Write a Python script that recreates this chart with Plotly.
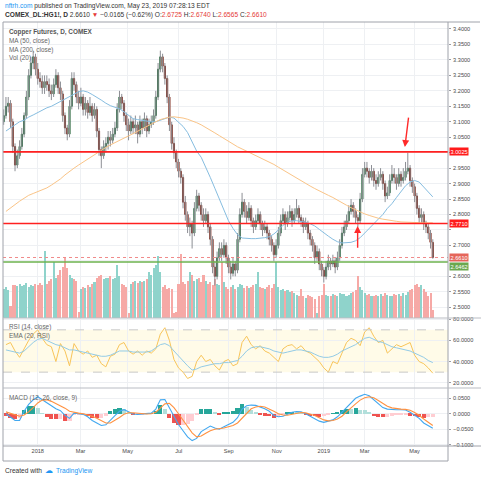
import plotly.graph_objects as go

# ---------------- data ----------------
first_open = 3.10
close = [
    3.12, 3.15, 3.16, 3.10, 3.02, 2.96, 2.99, 3.02, 3.06, 3.12,
    3.18, 3.25, 3.29, 3.31, 3.27, 3.24, 3.23, 3.21, 3.23, 3.22,
    3.20, 3.19, 3.22, 3.25, 3.21, 3.19, 3.12, 3.08, 3.06, 3.15,
    3.24, 3.22, 3.18, 3.16, 3.18, 3.14, 3.16, 3.13, 3.15, 3.12,
    3.14, 3.07, 3.01, 2.99, 3.02, 3.03, 3.05, 3.04, 3.06, 3.08,
    3.14, 3.18, 3.16, 3.12, 3.09, 3.07, 3.10, 3.08, 3.09, 3.06,
    3.10, 3.08, 3.11, 3.07, 3.09, 3.10, 3.12, 3.18, 3.27, 3.31,
    3.28, 3.24, 3.18, 3.09, 3.03, 3.00, 2.97, 2.94, 2.92, 2.84,
    2.80, 2.76, 2.77, 2.74, 2.82, 2.86, 2.83, 2.80, 2.78, 2.80,
    2.76, 2.72, 2.63, 2.60, 2.66, 2.69, 2.67, 2.70, 2.66, 2.63,
    2.61, 2.64, 2.62, 2.72, 2.80, 2.84, 2.81, 2.79, 2.82, 2.78,
    2.76, 2.78, 2.80, 2.77, 2.75, 2.76, 2.74, 2.72, 2.70, 2.67,
    2.70, 2.74, 2.78, 2.80, 2.77, 2.79, 2.81, 2.78, 2.80, 2.82,
    2.79, 2.78, 2.76, 2.77, 2.74, 2.72, 2.70, 2.66, 2.68, 2.64,
    2.62, 2.60, 2.63, 2.65, 2.64, 2.65, 2.63, 2.66, 2.70, 2.74,
    2.76, 2.78, 2.81, 2.83, 2.81, 2.79, 2.78, 2.85, 2.93, 2.95,
    2.94, 2.92, 2.94, 2.91, 2.90, 2.92, 2.93, 2.90, 2.86, 2.87,
    2.91, 2.93, 2.92, 2.90, 2.93, 2.91, 2.92, 2.94, 2.95, 2.91,
    2.89, 2.86, 2.82, 2.79, 2.80, 2.77, 2.76, 2.74, 2.71, 2.661,
]
high = [
    3.14, 3.18, 3.18, 3.17, 3.11, 3.03, 3.01, 3.04, 3.08, 3.13,
    3.20, 3.27, 3.31, 3.33, 3.32, 3.29, 3.26, 3.25, 3.25, 3.25,
    3.24, 3.22, 3.24, 3.27, 3.26, 3.23, 3.20, 3.13, 3.09, 3.17,
    3.26, 3.26, 3.23, 3.20, 3.21, 3.19, 3.18, 3.17, 3.18, 3.16,
    3.16, 3.15, 3.08, 3.02, 3.04, 3.05, 3.07, 3.07, 3.08, 3.10,
    3.16, 3.20, 3.19, 3.17, 3.13, 3.11, 3.12, 3.11, 3.12, 3.10,
    3.12, 3.11, 3.13, 3.12, 3.11, 3.12, 3.14, 3.20, 3.29, 3.33,
    3.32, 3.29, 3.25, 3.19, 3.10, 3.05, 3.01, 2.98, 2.95, 2.93,
    2.86, 2.81, 2.79, 2.78, 2.84, 2.88, 2.87, 2.84, 2.82, 2.82,
    2.81, 2.77, 2.73, 2.65, 2.68, 2.71, 2.71, 2.72, 2.71, 2.67,
    2.65, 2.66, 2.65, 2.74, 2.82, 2.87, 2.85, 2.83, 2.84, 2.83,
    2.79, 2.80, 2.82, 2.81, 2.78, 2.78, 2.77, 2.75, 2.73, 2.71,
    2.72, 2.76, 2.80, 2.82, 2.81, 2.81, 2.83, 2.82, 2.82, 2.85,
    2.83, 2.80, 2.79, 2.79, 2.78, 2.75, 2.73, 2.71, 2.70, 2.69,
    2.65, 2.63, 2.65, 2.67, 2.66, 2.67, 2.66, 2.68, 2.72, 2.76,
    2.78, 2.80, 2.83, 2.85, 2.84, 2.82, 2.80, 2.87, 2.95, 2.97,
    2.97, 2.95, 2.96, 2.95, 2.93, 2.94, 2.95, 2.94, 2.91, 2.89,
    2.93, 2.96, 2.95, 2.93, 2.95, 2.94, 2.95, 2.97, 3.00, 2.96,
    2.92, 2.90, 2.87, 2.83, 2.82, 2.81, 2.78, 2.77, 2.75, 2.72,
]
low = [
    3.09, 3.11, 3.13, 3.08, 3.00, 2.94, 2.95, 2.98, 3.01, 3.05,
    3.11, 3.17, 3.24, 3.27, 3.25, 3.22, 3.21, 3.19, 3.19, 3.20,
    3.18, 3.17, 3.18, 3.21, 3.19, 3.17, 3.10, 3.06, 3.04, 3.05,
    3.14, 3.20, 3.16, 3.14, 3.15, 3.12, 3.12, 3.11, 3.12, 3.10,
    3.11, 3.05, 2.99, 2.95, 2.98, 3.00, 3.01, 3.02, 3.03, 3.05,
    3.07, 3.13, 3.14, 3.10, 3.07, 3.04, 3.06, 3.06, 3.06, 3.03,
    3.05, 3.06, 3.07, 3.05, 3.06, 3.08, 3.09, 3.11, 3.17, 3.26,
    3.26, 3.22, 3.16, 3.07, 3.01, 2.98, 2.95, 2.92, 2.90, 2.82,
    2.78, 2.74, 2.73, 2.69, 2.73, 2.81, 2.81, 2.78, 2.76, 2.77,
    2.74, 2.70, 2.61, 2.57, 2.59, 2.65, 2.65, 2.66, 2.64, 2.61,
    2.59, 2.60, 2.60, 2.61, 2.71, 2.79, 2.79, 2.77, 2.78, 2.76,
    2.74, 2.75, 2.77, 2.75, 2.73, 2.74, 2.72, 2.70, 2.68, 2.65,
    2.66, 2.69, 2.73, 2.77, 2.75, 2.76, 2.78, 2.76, 2.77, 2.79,
    2.77, 2.76, 2.74, 2.75, 2.72, 2.70, 2.68, 2.64, 2.65, 2.62,
    2.60, 2.58, 2.59, 2.62, 2.62, 2.63, 2.61, 2.62, 2.65, 2.69,
    2.73, 2.75, 2.77, 2.80, 2.79, 2.77, 2.76, 2.77, 2.84, 2.92,
    2.92, 2.90, 2.91, 2.89, 2.88, 2.89, 2.91, 2.88, 2.84, 2.85,
    2.86, 2.90, 2.90, 2.88, 2.89, 2.89, 2.90, 2.91, 2.93, 2.89,
    2.87, 2.84, 2.80, 2.77, 2.77, 2.75, 2.74, 2.72, 2.69, 2.657,
]
volume = [  # thousands of contracts
    95, 100, 90, 40, 105, 108, 102, 110, 104, 106,
    112, 100, 108, 104, 110, 106, 112, 108, 215, 110,
    120, 125, 180, 130, 140, 155, 165, 195, 160, 140,
    130, 125, 120, 20, 95, 100, 98, 105, 100, 110,
    115, 130, 135, 140, 125, 130, 128, 135, 125, 130,
    170, 135, 110, 105, 100, 15, 110, 115, 118, 112,
    120, 115, 118, 125, 150, 140, 160, 170, 200, 150,
    100, 105, 95, 98, 92, 15, 20, 110, 205, 115,
    110, 120, 150, 140, 120, 125, 130, 115, 140, 120,
    110, 115, 105, 125, 110, 105, 180, 115, 100, 95,
    100, 105, 95, 100, 110, 105, 98, 102, 96, 100,
    105, 110, 150, 100, 98, 95, 100, 105, 98, 110,
    180, 100, 90, 92, 88, 90, 85, 88, 80, 75,
    72, 95, 70, 65, 75, 72, 68, 60, 15, 70,
    75, 110, 75, 72, 70, 78, 75, 72, 80, 76,
    78, 72, 75, 80, 85, 90, 135, 100, 90, 80,
    75, 78, 72, 70, 75, 72, 78, 70, 80, 75,
    72, 70, 78, 74, 76, 72, 80, 75, 85, 90,
    95, 105, 110, 100, 108, 95, 85, 70, 80, 25,
]
# indicators sampled every second bar (bars 1, 3, 5, ...)
ma50 = [
    3.070, 3.080, 3.090, 3.100, 3.105, 3.115, 3.122, 3.130, 3.137, 3.145,
    3.150, 3.158, 3.165, 3.173, 3.182, 3.190, 3.197, 3.200, 3.196, 3.188,
    3.180, 3.170, 3.160, 3.152, 3.147, 3.142, 3.132, 3.120, 3.110, 3.107,
    3.104, 3.102, 3.100, 3.100, 3.105, 3.112, 3.115, 3.112, 3.100, 3.085,
    3.065, 3.035, 3.005, 2.985, 2.955, 2.920, 2.885, 2.850, 2.810, 2.780,
    2.755, 2.735, 2.724, 2.722, 2.722, 2.722, 2.723, 2.725, 2.728, 2.737,
    2.750, 2.765, 2.775, 2.780, 2.780, 2.778, 2.775, 2.770, 2.763, 2.752,
    2.740, 2.730, 2.720, 2.712, 2.708, 2.708, 2.710, 2.715, 2.725, 2.740,
    2.755, 2.770, 2.785, 2.800, 2.820, 2.835, 2.855, 2.875, 2.893, 2.905,
    2.910, 2.905, 2.890, 2.875, 2.857,
]
ma200 = [
    2.810, 2.820, 2.832, 2.843, 2.853, 2.862, 2.868, 2.874, 2.879, 2.886,
    2.895, 2.905, 2.915, 2.928, 2.940, 2.950, 2.960, 2.970, 2.980, 2.990,
    3.000, 3.009, 3.017, 3.025, 3.033, 3.040, 3.047, 3.054, 3.062, 3.070,
    3.078, 3.086, 3.094, 3.100, 3.107, 3.112, 3.115, 3.116, 3.115, 3.112,
    3.108, 3.103, 3.097, 3.090, 3.082, 3.073, 3.064, 3.055, 3.046, 3.036,
    3.027, 3.019, 3.012, 3.005, 2.998, 2.992, 2.985, 2.978, 2.970, 2.962,
    2.953, 2.944, 2.935, 2.926, 2.918, 2.910, 2.900, 2.892, 2.884, 2.876,
    2.868, 2.862, 2.855, 2.846, 2.838, 2.830, 2.822, 2.815, 2.808, 2.802,
    2.797, 2.792, 2.788, 2.785, 2.782, 2.780, 2.778, 2.776, 2.775, 2.774,
    2.774, 2.773, 2.773, 2.773, 2.773,
]
rsi = [
    56, 58, 50, 44, 52, 60, 66, 70, 62, 56,
    54, 40, 57, 50, 36, 57, 50, 47, 50, 44,
    46, 38, 35, 45, 47, 56, 58, 50, 47, 50,
    46, 50, 48, 52, 66, 72, 60, 42, 34, 30,
    24, 26, 40, 46, 40, 42, 36, 32, 40, 42,
    36, 38, 58, 64, 56, 52, 55, 50, 48, 44,
    40, 52, 55, 56, 52, 55, 50, 48, 44, 40,
    34, 30, 40, 38, 48, 58, 62, 60, 55, 68,
    72, 64, 58, 60, 48, 52, 56, 54, 56, 58,
    46, 40, 38, 34, 29,
]
rsi_ema = [
    51, 50, 49, 48, 50, 54, 58, 61, 62, 60,
    58, 56, 55, 53, 51, 51, 50, 49, 48, 47,
    46, 45, 45, 46, 48, 50, 50, 50, 49, 49,
    49, 49, 50, 53, 56, 57, 55, 50, 45, 41,
    36, 32, 33, 35, 36, 37, 38, 38, 39, 39,
    40, 41, 45, 50, 53, 54, 54, 53, 52, 50,
    49, 48, 49, 50, 51, 51, 50, 49, 47, 45,
    44, 44, 45, 47, 50, 52, 54, 56, 59, 62,
    63, 61, 59, 58, 56, 54, 53, 52, 51, 50,
    48, 46, 44, 41, 39,
]
macd = [
    0.000, -0.012, -0.022, -0.022, 0.008, 0.030, 0.045, 0.055, 0.045, 0.034,
    0.024, 0.016, 0.010, -0.005, -0.015, 0.002, 0.000, -0.002, -0.010, -0.022,
    -0.030, -0.038, -0.036, -0.020, -0.006, 0.008, 0.013, 0.006, -0.001, -0.002,
    -0.001, -0.001, 0.002, 0.015, 0.045, 0.046, 0.020, -0.010, -0.035, -0.055,
    -0.075, -0.087, -0.080, -0.058, -0.048, -0.040, -0.046, -0.050, -0.042, -0.036,
    -0.028, -0.013, 0.015, 0.026, 0.028, 0.027, 0.022, 0.016, 0.008, -0.006,
    -0.010, -0.008, -0.002, 0.005, 0.007, 0.006, 0.000, -0.008, -0.014, -0.024,
    -0.028, -0.025, -0.020, -0.010, 0.005, 0.022, 0.035, 0.050, 0.057, 0.063,
    0.058, 0.045, 0.032, 0.020, 0.015, 0.013, 0.013, 0.013, 0.012, 0.005,
    -0.004, -0.015, -0.030, -0.038, -0.047,
]
macd_signal = [
    0.006, 0.002, -0.004, -0.008, -0.004, 0.006, 0.020, 0.035, 0.044, 0.045,
    0.040, 0.033, 0.026, 0.018, 0.008, 0.004, 0.002, 0.000, -0.003, -0.008,
    -0.015, -0.023, -0.030, -0.030, -0.022, -0.012, -0.002, 0.003, 0.003, 0.001,
    0.000, -0.001, 0.000, 0.005, 0.018, 0.032, 0.034, 0.020, 0.000, -0.020,
    -0.042, -0.062, -0.075, -0.072, -0.063, -0.055, -0.050, -0.049, -0.046, -0.042,
    -0.038, -0.030, -0.015, 0.003, 0.016, 0.022, 0.024, 0.022, 0.016, 0.008,
    0.000, -0.004, -0.005, -0.002, 0.002, 0.004, 0.003, -0.001, -0.006, -0.013,
    -0.020, -0.023, -0.022, -0.017, -0.008, 0.006, 0.020, 0.032, 0.044, 0.052,
    0.055, 0.052, 0.043, 0.032, 0.024, 0.019, 0.016, 0.015, 0.014, 0.011,
    0.004, -0.005, -0.017, -0.028, -0.038,
]
month_ticks = [15, 33.9, 54.6, 77.1, 99.1, 120.3, 141, 159, 181]
month_labels = ["2018", "Mar", "May", "Jul", "Sep", "Nov", "2019", "Mar", "May"]
price_ticks = [2.50, 2.55, 2.60, 2.65, 2.70, 2.75, 2.80, 2.85, 2.90, 2.95,
               3.00, 3.05, 3.10, 3.15, 3.20, 3.25, 3.30, 3.35, 3.40]
price_labels = ["2.5000", "2.5500", "2.6000", "", "2.7000", "", "2.8000", "2.8500",
                "2.9000", "2.9500", "", "3.0500", "3.1000", "3.1500", "3.2000",
                "3.2500", "3.3000", "3.3500", "3.4000"]
rsi_ticks = [20, 40, 60, 80]
rsi_labels = ["20.0000", "40.0000", "60.0000", "80.0000"]
macd_ticks = [-0.10, -0.05, 0.0, 0.05]
macd_labels = ["\u22120.1000", "\u22120.0500", "0.0000", "0.0500"]
level_top = 3.0025
level_mid = 2.7710
level_support = 2.6462
last_price = 2.6610
# hand-drawn arrows: (tip bar, tip price, tail bar, tail price)
arrows = [(176.7, 3.018, 178.4, 3.118), (155.9, 2.763, 155.9, 2.688)]

# ---------------- derived ----------------
bars = list(range(len(close)))
opens = [first_open] + close[:-1]
body_hi = [max(o, c) for o, c in zip(opens, close)]
body_lo = [min(o, c) for o, c in zip(opens, close)]
ind_x = list(range(1, len(close), 2))
hist = [m - s for m, s in zip(macd, macd_signal)]

wx, wy = [], []
for i in bars:
    wx += [i, i, None]
    wy += [low[i], high[i], None]

vol_colors = ["#8fd3cb" if c >= o else "#f6a9a6" for o, c in zip(opens, close)]
hist_colors = []
prev = 0.0
for h in hist:
    if h >= 0:
        hist_colors.append("#26a69a" if h >= prev else "#b2dfdb")
    else:
        hist_colors.append("#ef5350" if h < prev else "#ffcdd2")
    prev = h

FONT = "Liberation Sans, Arial, sans-serif"
W, H = 481, 480
ML, MR, MT, MB = 3, 33, 22, 34
PW = W - ML - MR
PH = H - MT - MB


def px(x):
    return (x - ML) / PW


def py(y):
    return (MT + PH - y) / PH


fig = go.Figure()

# volume (base axis of the price pane, hidden)
fig.add_trace(go.Bar(x=bars, y=volume, marker=dict(color=vol_colors, line=dict(width=0)),
                     width=0.9, xaxis="x", yaxis="y", hoverinfo="skip"))
# wicks
fig.add_trace(go.Scatter(x=wx, y=wy, mode="lines", line=dict(color="#8c8e94", width=1),
                         xaxis="x", yaxis="y4", hoverinfo="skip"))
# candles
fig.add_trace(go.Candlestick(
    x=bars, open=opens, high=body_hi, low=body_lo, close=close,
    increasing=dict(line=dict(color="#2d6a43", width=1), fillcolor="#5e9f72"),
    decreasing=dict(line=dict(color="#7a2619", width=1), fillcolor="#b9533f"),
    xaxis="x", yaxis="y4", hoverinfo="skip"))
# moving averages
fig.add_trace(go.Scatter(x=ind_x, y=ma50, mode="lines", line=dict(color="#86bde0", width=1),
                         xaxis="x", yaxis="y4", hoverinfo="skip"))
fig.add_trace(go.Scatter(x=ind_x, y=ma200, mode="lines", line=dict(color="#fac487", width=1),
                         xaxis="x", yaxis="y4", hoverinfo="skip"))
# RSI pane
fig.add_trace(go.Scatter(x=ind_x, y=rsi, mode="lines", line=dict(color="#f8c55a", width=1),
                         xaxis="x", yaxis="y2", hoverinfo="skip"))
fig.add_trace(go.Scatter(x=ind_x, y=rsi_ema, mode="lines", line=dict(color="#93cbe6", width=1),
                         xaxis="x", yaxis="y2", hoverinfo="skip"))
# MACD pane
fig.add_trace(go.Bar(x=ind_x, y=hist, marker=dict(color=hist_colors, line=dict(width=0)),
                     width=1.8, xaxis="x", yaxis="y3", hoverinfo="skip"))
fig.add_trace(go.Scatter(x=ind_x, y=macd, mode="lines", line=dict(color="#42a8f0", width=1.1),
                         xaxis="x", yaxis="y3", hoverinfo="skip"))
fig.add_trace(go.Scatter(x=ind_x, y=macd_signal, mode="lines", line=dict(color="#ff9140", width=1.1),
                         xaxis="x", yaxis="y3", hoverinfo="skip"))

GRID = "#eef0f3"
TICKF = dict(family=FONT, size=5.6, color="#4a4a4a")
main_dom = [py(318), 1.0]
rsi_dom = [py(388), py(318)]
macd_dom = [0.0, py(388)]
yax_common = dict(side="right", anchor="x", showgrid=True, gridcolor=GRID, ticks="outside",
                  ticklen=2, tickcolor="#9a9da5", tickfont=TICKF, zeroline=False,
                  ticklabelstandoff=1)

fig.update_layout(
    width=W, height=H, margin=dict(l=ML, r=MR, t=MT, b=MB),
    paper_bgcolor="white", plot_bgcolor="white", showlegend=False,
    bargap=0, font=dict(family=FONT, size=6, color="#4a4a4a"),
    xaxis=dict(range=[-0.3, 195.7], anchor="y3", tickvals=month_ticks, ticktext=month_labels,
               showgrid=True, gridcolor=GRID, gridwidth=1, ticks="", tickfont=TICKF,
               rangeslider=dict(visible=False), zeroline=False, showline=False),
    yaxis=dict(domain=main_dom, range=[0, 955], visible=False, showgrid=False),
    yaxis4=dict(overlaying="y", range=[2.4653, 3.4226], tickvals=price_ticks,
                ticktext=price_labels, **yax_common),
    yaxis2=dict(domain=rsi_dom, range=[15, 81.2], tickvals=rsi_ticks, ticktext=rsi_labels,
                **yax_common),
    yaxis3=dict(domain=macd_dom, range=[-0.1045, 0.0833], tickvals=macd_ticks,
                ticktext=macd_labels, **yax_common),
)

shapes = []
# RSI band and bounds
shapes.append(dict(type="rect", xref="paper", x0=0, x1=1, yref="y2", y0=30, y1=70,
                   fillcolor="rgba(255,236,140,0.20)", line=dict(width=0), layer="below"))
for lv in (30, 70):
    shapes.append(dict(type="line", xref="paper", x0=0, x1=1, yref="y2", y0=lv, y1=lv,
                       line=dict(color="#c8c8c8", width=1, dash="dash")))
# price levels
for lv, col in ((level_top, "#ff2020"), (level_mid, "#ff2020"), (level_support, "#6db24e")):
    shapes.append(dict(type="line", xref="paper", x0=0, x1=1, yref="y4", y0=lv, y1=lv,
                       line=dict(color=col, width=1.6)))
shapes.append(dict(type="line", xref="paper", x0=0, x1=1, yref="y4", y0=last_price, y1=last_price,
                   line=dict(color="#f08a8a", width=1, dash="dot")))
# frame
FR = "#9fa2aa"
SEP = "#b9bcc3"
shapes += [
    dict(type="line", xref="paper", yref="paper", x0=0, x1=px(480), y0=py(22), y1=py(22), line=dict(color=FR, width=1)),
    dict(type="line", xref="paper", yref="paper", x0=0, x1=0, y0=py(22), y1=py(461), line=dict(color=FR, width=1)),
    dict(type="line", xref="paper", yref="paper", x0=1, x1=1, y0=py(22), y1=py(461), line=dict(color=FR, width=1)),
    dict(type="line", xref="paper", yref="paper", x0=0, x1=1, y0=py(461), y1=py(461), line=dict(color=FR, width=1)),
    dict(type="line", xref="paper", yref="paper", x0=0, x1=px(481), y0=py(446), y1=py(446), line=dict(color=FR, width=1)),
    dict(type="line", xref="paper", yref="paper", x0=0, x1=px(481), y0=py(318), y1=py(318), line=dict(color=SEP, width=1)),
    dict(type="line", xref="paper", yref="paper", x0=0, x1=px(481), y0=py(388), y1=py(388), line=dict(color=SEP, width=1)),
]
fig.update_layout(shapes=shapes)

ann = []


def text(xp, yp, s, size=6.5, color="#4a4a4a", anchor="left"):
    ann.append(dict(xref="paper", yref="paper", x=px(xp), y=py(yp), text=s, showarrow=False,
                    xanchor=anchor, yanchor="middle", font=dict(family=FONT, size=size, color=color)))


text(3, 6, '<span style="color:#2196f3">nftrh.com</span> published on TradingView.com, May 23, 2019 07:28:13 EDT', 6.6, "#333")
text(3, 15, '<b>COMEX_DL:HG1!, D</b> 2.6610 <span style="color:#e53935">\u25bc</span> \u22120.0165 (\u22120.62%) '
     'O:<span style="color:#e53935">2.6725</span> H:<span style="color:#e53935">2.6740</span> '
     'L:<span style="color:#e53935">2.6565</span> C:<span style="color:#e53935">2.6610</span>', 6.6, "#333")
text(7, 32, "<b>Copper Futures, D, COMEX</b>", 6.4, "#555")
text(7, 41, "MA (50, close)", 6.4, "#666")
text(7, 50, "MA (200, close)", 6.4, "#666")
text(7, 58, "Vol (20)", 6.4, "#666")
text(7, 327, "RSI (14, close)", 6.4, "#666")
text(7, 336, "EMA (20, RSI)", 6.4, "#666")
text(7, 398, "MACD (12, 26, close, 9)", 6.4, "#666")
text(3, 471, "Created with", 6.6, "#333")
text(43, 471, "\u2601", 8, "#2196f3")
text(54, 471, "TradingView", 6.6, "#2196f3")

# price labels on the axis
for lv, bg, shift in ((level_top, "#ff1a1a", 0), (level_mid, "#ff1a1a", 0),
                      (last_price, "#e5655a", 0), (level_support, "#6aa84f", -4)):
    ann.append(dict(xref="paper", yref="y4", x=1, y=lv, text="%.4f" % lv, showarrow=False,
                    xanchor="left", yanchor="middle", xshift=1, yshift=shift, bgcolor=bg,
                    borderpad=0.5, font=dict(family=FONT, size=5.6, color="white")))

# hand-drawn red arrows
for tx, ty, sx, sy in arrows:
    ann.append(dict(x=tx, y=ty, xref="x", yref="y4", ax=sx, ay=sy, axref="x", ayref="y4",
                    text="", showarrow=True, arrowhead=2, arrowsize=1, arrowwidth=1.4,
                    arrowcolor="#ff2a2a"))
fig.update_layout(annotations=ann)

fig.write_html("out.html", include_plotlyjs=True, config={"displayModeBar": False})

# remove the browser's default page margin so the figure sits at the window's top-left
with open("out.html", encoding="utf-8") as f:
    page = f.read()
page = page.replace("<head>", "<head><style>html,body{margin:0;padding:0;overflow:hidden;}</style>", 1)
with open("out.html", "w", encoding="utf-8") as f:
    f.write(page)
